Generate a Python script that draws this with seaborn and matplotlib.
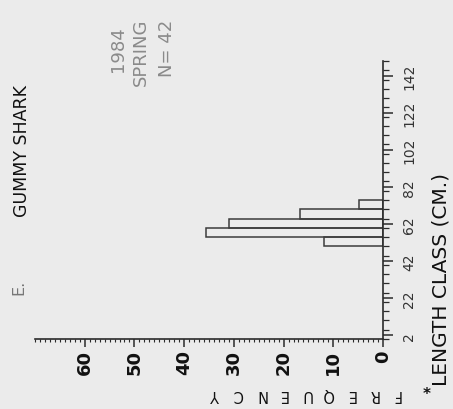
import numpy as np
import pandas as pd
import matplotlib
matplotlib.use("Agg")
import matplotlib.pyplot as plt
import seaborn as sns
from matplotlib.ticker import MultipleLocator

# Length-frequency distribution: 5 cm length classes, percent of catch
class_start = [50, 55, 60, 65, 70]
percent = [11.9, 35.7, 31.0, 16.7, 4.8]

length_ticks = [2, 22, 42, 62, 82, 102, 122, 142]
freq_ticks = [0, 10, 20, 30, 40, 50, 60]

species = "GUMMY SHARK"
panel = "E."
year = "1984"
season = "SPRING"
n_fish = 42
x_title = "LENGTH CLASS (CM.)"
y_title = "FREQUENCY"

BG = "#ebebeb"
INK = "#2a2a2a"
FADED = "#8a8a8a"

sns.set_theme(style="white")
plt.rcParams["font.family"] = ["DejaVu Sans"]

W, H = 453, 410
fig = plt.figure(figsize=(W / 100, H / 100), dpi=100, facecolor=BG)


def px(x, y):
    return x / W, 1 - y / H


# The whole panel is laid out sideways: length runs up the page, frequency to the left
ax = fig.add_axes([35 / W, 70 / H, 348 / W, 278 / H])
ax.set_facecolor(BG)

df = pd.DataFrame({"length": np.array(class_start) + 2.5, "percent": percent})
sns.barplot(data=df, x="percent", y="length", orient="h", native_scale=True,
            width=1, fill=False, color="#3c3c3c", linewidth=1.1,
            errorbar=None, ax=ax)

ax.set_xlim(70, 0)
ax.set_ylim(0, 150)
ax.set_xlabel("")
ax.set_ylabel("")

for side in ("top", "left"):
    ax.spines[side].set_visible(False)
for side in ("bottom", "right"):
    ax.spines[side].set_color(INK)
    ax.spines[side].set_linewidth(1.2)

ax.yaxis.tick_right()
ax.set_xticks(freq_ticks, labels=[str(t) for t in freq_ticks])
ax.xaxis.set_minor_locator(MultipleLocator(1))
ax.set_yticks(length_ticks, labels=[str(t) for t in length_ticks])
ax.yaxis.set_minor_locator(MultipleLocator(5))

ax.tick_params(axis="x", which="major", direction="out", length=5.5, width=1.1,
               color=INK, labelrotation=90, labelsize=13, pad=2, labelcolor="#111",
               bottom=True, top=False)
ax.tick_params(axis="x", which="minor", direction="out", length=2.5, width=0.8,
               color=INK, bottom=True, top=False)
ax.tick_params(axis="y", which="major", direction="out", length=7, width=1.1,
               color=INK, labelrotation=90, labelsize=10, pad=7, labelcolor="#333",
               right=True, left=False, labelright=True, labelleft=False)
ax.tick_params(axis="y", which="minor", direction="out", length=4, width=0.9,
               color=INK, right=True, left=False)
for lbl in ax.get_yticklabels():
    lbl.set_va("center")
for lbl in ax.get_xticklabels():
    lbl.set_fontweight("bold")

# Titles and annotations, all turned with the panel
fig.text(*px(22, 151), species, rotation=90, ha="center", va="center",
         fontsize=12.5, color="#111")
fig.text(*px(19, 287), panel, rotation=90, ha="center", va="center",
         fontsize=11.5, color="#777")
for xpos, ypos, txt in [(118, 72, year), (141, 86, season), (167, 77, f"N= {n_fish}")]:
    fig.text(*px(xpos, ypos), txt, rotation=90, rotation_mode="anchor",
             ha="left", va="center", fontsize=13, color=FADED)

fig.text(*px(441, 386), x_title, rotation=90, rotation_mode="anchor",
         ha="left", va="center", fontsize=14.5, color="#111")
fig.text(*px(427, 395), "*", ha="center", va="center", fontsize=11,
         fontweight="bold", color="#111")

# Frequency title reads upside down, with wide letter spacing
for i, ch in enumerate(y_title):
    fig.text(*px(396 - i * 22.5, 395), ch, rotation=180, ha="center",
             va="center", fontsize=10.5, color="#111")

fig.savefig("out.png", dpi=100, facecolor=BG)
